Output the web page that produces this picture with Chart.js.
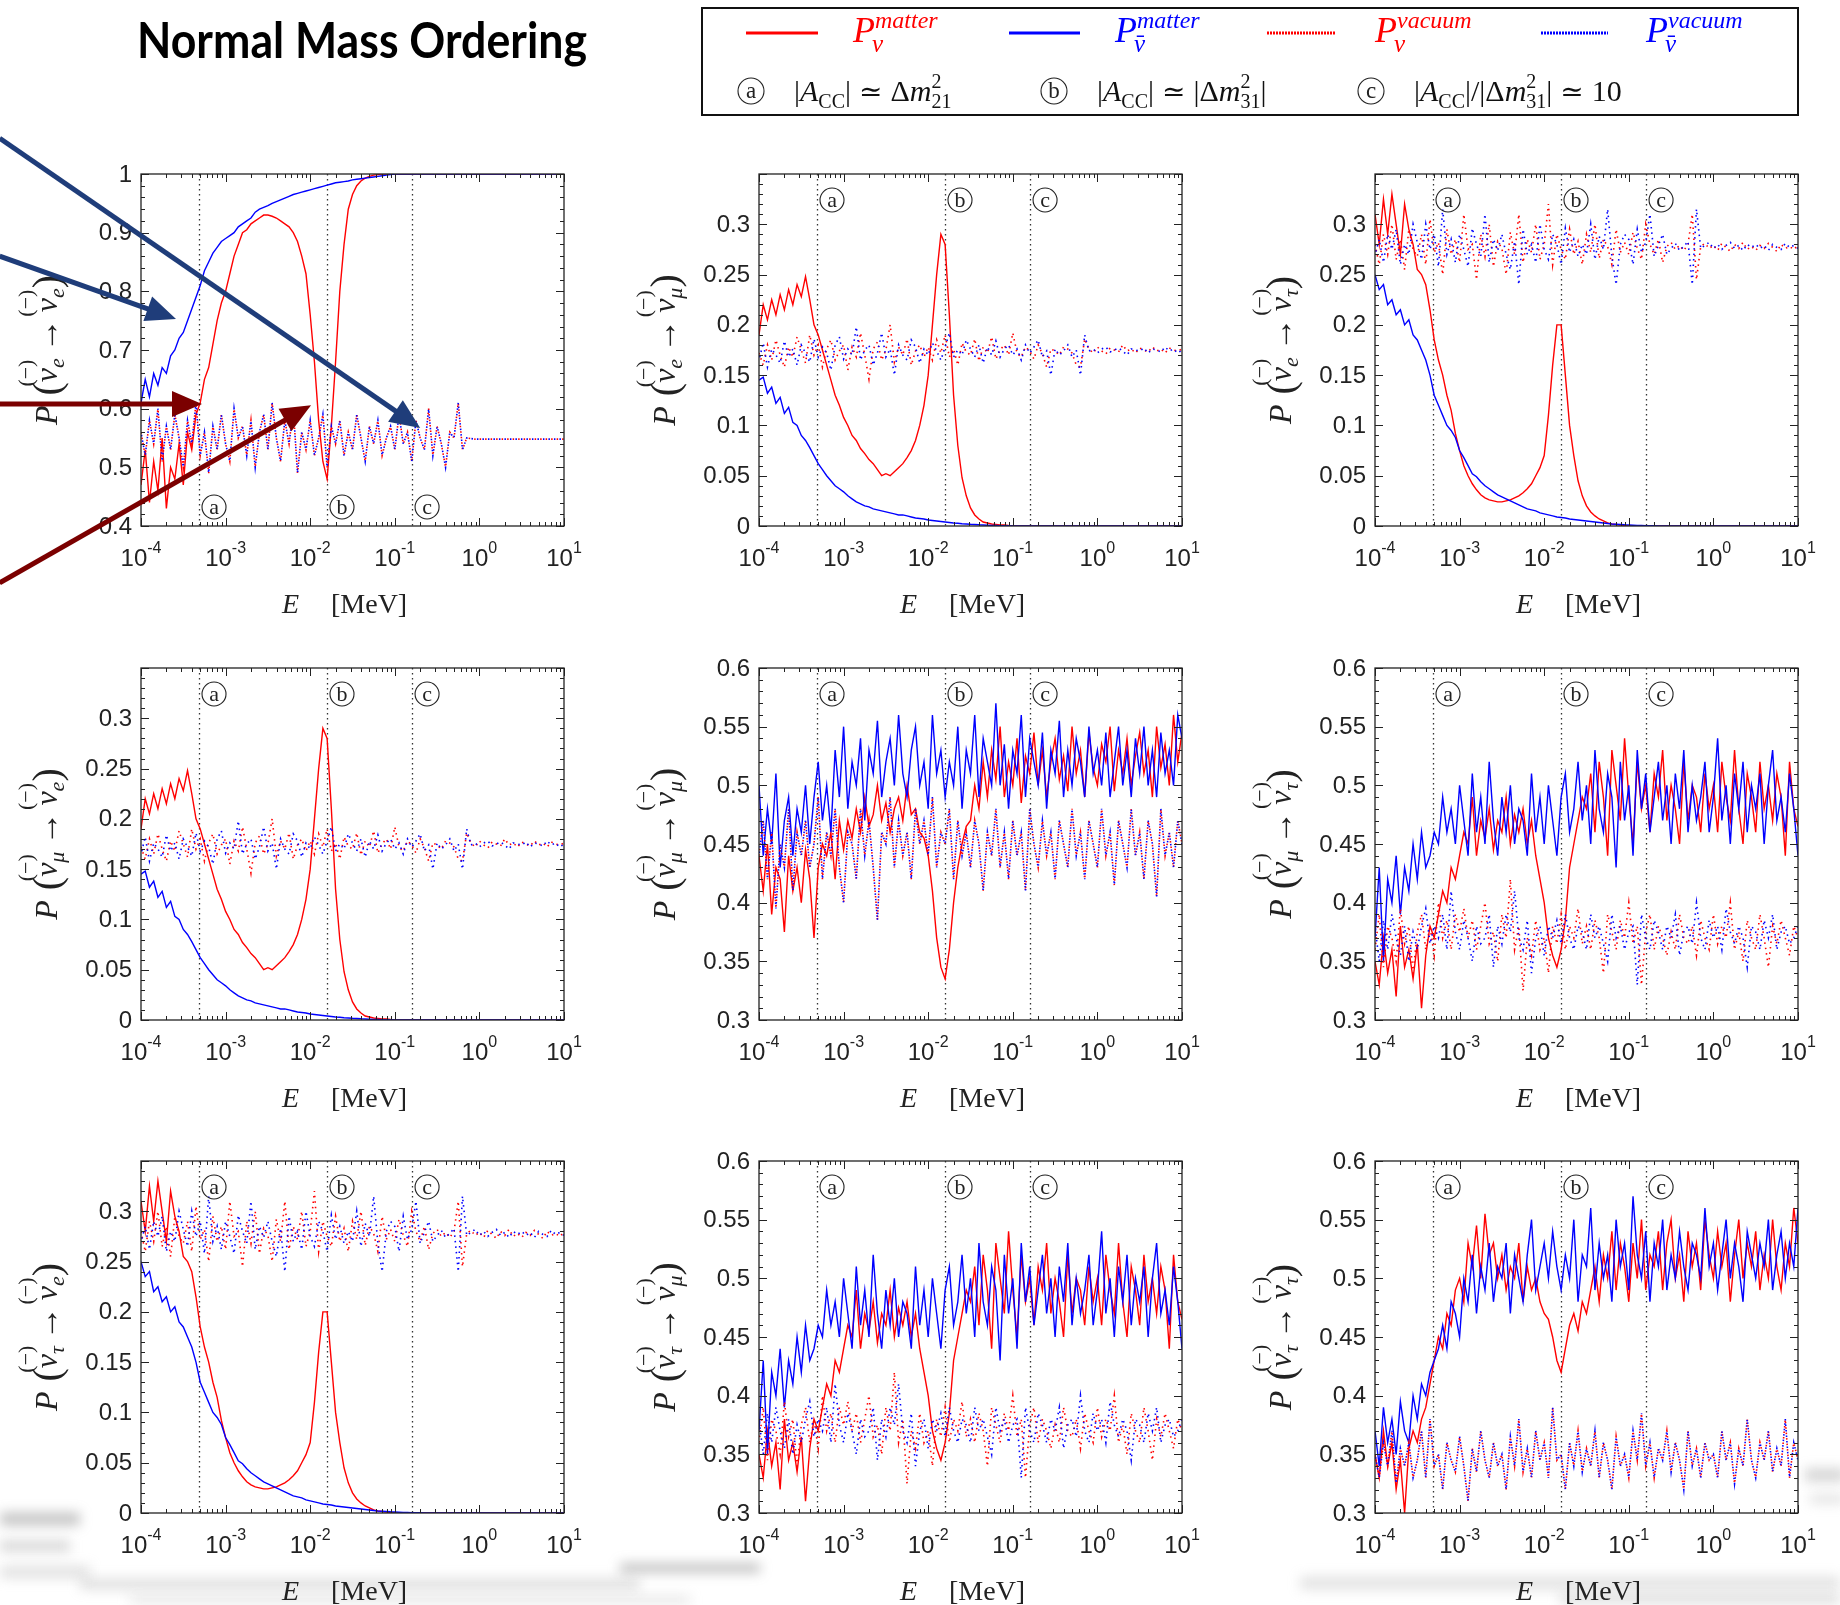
<!DOCTYPE html>
<html>
<head>
<meta charset="utf-8">
<title>Normal Mass Ordering</title>
<script src="https://cdn.jsdelivr.net/npm/chart.js@4.4.1/dist/chart.umd.min.js"></script>
<style>
  html, body { margin: 0; padding: 0; background: #fff; overflow: hidden; }
  #page { position: relative; width: 1840px; height: 1605px; }
  canvas { position: absolute; }
</style>
</head>
<body>
<div id="page">
  <canvas id="backdrop" width="1840" height="1605" style="left:0;top:0"></canvas>
  <canvas id="header" width="1840" height="130" style="left:0;top:0"></canvas>
</div>
<script>
// energy grid, log10(E / MeV)
const logE = [
  -4.00,-3.95,-3.90,-3.85,-3.80,-3.75,-3.70,-3.65,-3.60,-3.55,
  -3.50,-3.45,-3.40,-3.35,-3.30,-3.25,-3.20,-3.15,-3.10,-3.05,
  -3.00,-2.95,-2.90,-2.85,-2.80,-2.75,-2.70,-2.65,-2.60,-2.55,
  -2.50,-2.45,-2.40,-2.35,-2.30,-2.25,-2.20,-2.15,-2.10,-2.05,
  -2.00,-1.95,-1.90,-1.85,-1.80,-1.75,-1.70,-1.65,-1.60,-1.55,
  -1.50,-1.45,-1.40,-1.35,-1.30,-1.25,-1.20,-1.15,-1.10,-1.05,
  -1.00,-0.95,-0.90,-0.85,-0.80,-0.75,-0.70,-0.65,-0.60,-0.55,
  -0.50,-0.45,-0.40,-0.35,-0.30,-0.25,-0.20,-0.15,-0.10,-0.05,
   0.00, 0.05, 0.10, 0.15, 0.20, 0.25, 0.30, 0.35, 0.40, 0.45,
   0.50, 0.55, 0.60, 0.65, 0.70, 0.75, 0.80, 0.85, 0.90, 0.95, 1.00
];

// nu_e -> nu_e
const eeMatterNu = [
  0.47,0.53,0.44,0.51,0.46,0.55,0.43,0.50,0.48,0.54,
  0.47,0.56,0.53,0.59,0.61,0.65,0.67,0.71,0.75,0.78,
  0.80,0.83,0.86,0.88,0.90,0.905,0.915,0.92,0.925,0.93,
  0.93,0.928,0.925,0.92,0.915,0.91,0.90,0.885,0.86,0.83,
  0.76,0.68,0.58,0.51,0.48,0.57,0.68,0.80,0.88,0.94,
  0.965,0.98,0.988,0.993,0.996,0.998,0.999,1,1,1,
  1,1,1,1,1,1,1,1,1,1,
  1,1,1,1,1,1,1,1,1,1,
  1,1,1,1,1,1,1,1,1,1,
  1,1,1,1,1,1,1,1,1,1,1
];
const eeMatterNubar = [
  0.61,0.65,0.62,0.66,0.64,0.67,0.66,0.69,0.70,0.72,
  0.73,0.75,0.77,0.79,0.81,0.835,0.85,0.865,0.875,0.885,
  0.89,0.895,0.90,0.91,0.915,0.92,0.925,0.935,0.94,0.943,
  0.946,0.95,0.953,0.956,0.959,0.962,0.965,0.967,0.969,0.971,
  0.973,0.975,0.977,0.979,0.981,0.983,0.985,0.986,0.987,0.988,
  0.99,0.991,0.992,0.993,0.994,0.995,0.996,0.997,0.998,0.999,
  1,1,1,1,1,1,1,1,1,1,
  1,1,1,1,1,1,1,1,1,1,
  1,1,1,1,1,1,1,1,1,1,
  1,1,1,1,1,1,1,1,1,1,1
];
const eeVacuumNu = [
  0.56,0.52,0.58,0.54,0.60,0.51,0.57,0.53,0.59,0.55,
  0.50,0.58,0.54,0.61,0.52,0.56,0.49,0.57,0.53,0.59,
  0.54,0.51,0.60,0.55,0.57,0.52,0.58,0.50,0.56,0.59,
  0.53,0.61,0.55,0.51,0.58,0.54,0.60,0.49,0.56,0.53,
  0.58,0.52,0.55,0.59,0.50,0.57,0.54,0.58,0.52,0.56,
  0.53,0.59,0.55,0.51,0.57,0.54,0.58,0.52,0.55,0.57,
  0.53,0.59,0.54,0.56,0.51,0.58,0.55,0.53,0.60,0.52,
  0.57,0.54,0.50,0.56,0.55,0.61,0.53,0.55,0.549,0.548,
  0.548,0.548,0.548,0.548,0.548,0.548,0.548,0.548,0.548,0.548,
  0.548,0.548,0.548,0.548,0.548,0.548,0.548,0.548,0.548,0.548,0.548
];
const eeVacuumNubar = eeVacuumNu;

// nu_e -> nu_mu (nu_mu -> nu_e looks the same)
const emMatterNu = [
  0.19,0.22,0.205,0.225,0.21,0.23,0.215,0.235,0.22,0.24,
  0.228,0.248,0.225,0.20,0.19,0.175,0.16,0.145,0.13,0.12,
  0.108,0.10,0.09,0.085,0.077,0.072,0.066,0.062,0.056,0.05,
  0.052,0.05,0.054,0.058,0.062,0.068,0.075,0.085,0.10,0.12,
  0.15,0.20,0.25,0.29,0.28,0.21,0.13,0.08,0.048,0.03,
  0.018,0.011,0.007,0.004,0.003,0.002,0.0015,0.001,0.001,0.0005,
  0.0003,0,0,0,0,0,0,0,0,0,
  0,0,0,0,0,0,0,0,0,0,
  0,0,0,0,0,0,0,0,0,0,
  0,0,0,0,0,0,0,0,0,0,0
];
const emMatterNubar = [
  0.145,0.148,0.132,0.138,0.122,0.128,0.112,0.118,0.103,0.10,
  0.09,0.085,0.078,0.07,0.062,0.056,0.05,0.045,0.04,0.037,
  0.034,0.03,0.027,0.024,0.022,0.02,0.019,0.017,0.016,0.015,
  0.014,0.013,0.012,0.011,0.011,0.01,0.009,0.008,0.0075,0.007,
  0.006,0.0055,0.005,0.0045,0.004,0.0035,0.003,0.0027,0.0023,0.002,
  0.0017,0.0015,0.0012,0.001,0.0008,0.0006,0.0005,0.0004,0.0003,0.0002,
  0,0,0,0,0,0,0,0,0,0,
  0,0,0,0,0,0,0,0,0,0,
  0,0,0,0,0,0,0,0,0,0,
  0,0,0,0,0,0,0,0,0,0,0
];
const emVacuumNu = [
  0.172,0.16,0.18,0.165,0.185,0.17,0.158,0.178,0.168,0.188,
  0.175,0.162,0.19,0.17,0.18,0.158,0.176,0.185,0.165,0.174,
  0.18,0.155,0.178,0.168,0.192,0.17,0.146,0.176,0.183,0.165,
  0.175,0.2,0.163,0.178,0.17,0.186,0.16,0.174,0.18,0.168,
  0.178,0.165,0.185,0.172,0.19,0.168,0.176,0.16,0.182,0.173,
  0.17,0.186,0.164,0.178,0.172,0.188,0.166,0.175,0.18,0.17,
  0.192,0.172,0.168,0.178,0.174,0.166,0.18,0.171,0.158,0.176,
  0.174,0.17,0.178,0.176,0.172,0.16,0.158,0.186,0.176,0.172,
  0.178,0.174,0.171,0.177,0.175,0.173,0.18,0.174,0.176,0.172,
  0.177,0.175,0.173,0.178,0.174,0.176,0.172,0.177,0.175,0.174,0.176
];
const emVacuumNubar = [
  0.165,0.182,0.158,0.176,0.17,0.162,0.184,0.168,0.176,0.16,
  0.18,0.172,0.163,0.186,0.168,0.178,0.172,0.155,0.18,0.188,
  0.166,0.176,0.17,0.198,0.165,0.175,0.18,0.16,0.172,0.192,
  0.168,0.176,0.15,0.18,0.17,0.165,0.185,0.178,0.162,0.176,
  0.17,0.182,0.174,0.165,0.178,0.192,0.168,0.175,0.17,0.185,
  0.176,0.168,0.18,0.162,0.178,0.17,0.184,0.168,0.176,0.18,
  0.17,0.176,0.165,0.18,0.172,0.178,0.185,0.168,0.174,0.15,
  0.176,0.17,0.174,0.18,0.168,0.175,0.15,0.19,0.174,0.176,
  0.172,0.176,0.178,0.173,0.175,0.177,0.174,0.17,0.176,0.175,
  0.174,0.177,0.172,0.176,0.175,0.173,0.178,0.174,0.176,0.172,0.175
];

// nu_e -> nu_tau (nu_tau -> nu_e looks the same)
const etMatterNu = [
  0.31,0.28,0.325,0.29,0.33,0.30,0.27,0.32,0.295,0.28,
  0.255,0.25,0.24,0.215,0.185,0.165,0.15,0.13,0.115,0.092,
  0.075,0.06,0.05,0.042,0.036,0.031,0.028,0.026,0.025,0.024,
  0.024,0.025,0.026,0.028,0.03,0.033,0.037,0.042,0.05,0.058,
  0.07,0.11,0.16,0.20,0.20,0.15,0.10,0.07,0.045,0.03,
  0.02,0.014,0.01,0.007,0.005,0.003,0.002,0.0015,0.001,0.0005,
  0,0,0,0,0,0,0,0,0,0,
  0,0,0,0,0,0,0,0,0,0,
  0,0,0,0,0,0,0,0,0,0,
  0,0,0,0,0,0,0,0,0,0,0
];
const etMatterNubar = [
  0.25,0.235,0.24,0.22,0.225,0.21,0.215,0.2,0.205,0.19,
  0.185,0.175,0.165,0.15,0.13,0.12,0.11,0.1,0.095,0.088,
  0.075,0.068,0.06,0.052,0.049,0.044,0.04,0.037,0.034,0.031,
  0.029,0.027,0.025,0.023,0.021,0.019,0.017,0.016,0.015,0.013,
  0.012,0.011,0.01,0.009,0.0085,0.008,0.007,0.0065,0.006,0.0055,
  0.005,0.0045,0.004,0.0035,0.003,0.0025,0.002,0.0018,0.0015,0.0012,
  0.001,0.0008,0.0006,0.0005,0.0004,0.0003,0.0002,0.0001,0,0,
  0,0,0,0,0,0,0,0,0,0,
  0,0,0,0,0,0,0,0,0,0,
  0,0,0,0,0,0,0,0,0,0,0
];
const etVacuumNu = [
  0.28,0.26,0.29,0.27,0.3,0.265,0.285,0.255,0.295,0.275,
  0.268,0.29,0.26,0.305,0.272,0.282,0.25,0.295,0.27,0.285,
  0.262,0.31,0.275,0.28,0.245,0.29,0.268,0.3,0.258,0.283,
  0.276,0.25,0.292,0.27,0.31,0.262,0.285,0.272,0.3,0.265,
  0.28,0.32,0.26,0.29,0.275,0.265,0.295,0.27,0.283,0.26,
  0.29,0.272,0.3,0.266,0.285,0.278,0.26,0.295,0.272,0.282,
  0.27,0.292,0.276,0.265,0.3,0.28,0.27,0.285,0.262,0.278,
  0.282,0.275,0.279,0.274,0.28,0.31,0.245,0.278,0.281,0.276,
  0.279,0.274,0.281,0.277,0.273,0.28,0.276,0.282,0.275,0.278,
  0.274,0.279,0.276,0.281,0.277,0.273,0.28,0.276,0.278,0.275,0.279
];
const etVacuumNubar = [
  0.27,0.285,0.262,0.29,0.275,0.295,0.26,0.28,0.27,0.3,
  0.282,0.265,0.3,0.275,0.29,0.258,0.315,0.27,0.285,0.262,
  0.29,0.275,0.258,0.296,0.28,0.268,0.31,0.262,0.285,0.274,
  0.29,0.27,0.255,0.283,0.24,0.295,0.27,0.28,0.262,0.3,
  0.275,0.265,0.29,0.28,0.26,0.296,0.272,0.285,0.268,0.28,
  0.27,0.3,0.265,0.288,0.275,0.315,0.268,0.24,0.28,0.29,
  0.285,0.26,0.295,0.272,0.282,0.31,0.268,0.279,0.29,0.27,
  0.276,0.281,0.274,0.278,0.283,0.24,0.315,0.276,0.279,0.282,
  0.276,0.28,0.275,0.279,0.282,0.276,0.279,0.274,0.28,0.277,
  0.28,0.276,0.279,0.274,0.28,0.277,0.275,0.281,0.277,0.279,0.276
];

// nu_mu -> nu_mu
const mmMatterNu = [
  0.44,0.41,0.45,0.39,0.43,0.42,0.375,0.44,0.41,0.43,
  0.40,0.445,0.42,0.37,0.43,0.45,0.44,0.46,0.42,0.47,
  0.445,0.47,0.455,0.48,0.46,0.49,0.465,0.475,0.50,0.47,
  0.485,0.46,0.48,0.49,0.47,0.50,0.475,0.48,0.46,0.455,
  0.44,0.41,0.37,0.345,0.335,0.36,0.40,0.43,0.45,0.465,
  0.47,0.50,0.48,0.52,0.49,0.53,0.505,0.55,0.49,0.52,
  0.50,0.54,0.485,0.525,0.51,0.545,0.50,0.53,0.49,0.52,
  0.54,0.505,0.525,0.495,0.55,0.51,0.53,0.49,0.545,0.515,
  0.50,0.535,0.52,0.55,0.495,0.53,0.51,0.54,0.50,0.525,
  0.545,0.51,0.53,0.49,0.55,0.515,0.535,0.50,0.56,0.52,0.545
];
const mmMatterNubar = [
  0.50,0.44,0.48,0.45,0.51,0.43,0.47,0.49,0.44,0.48,
  0.46,0.50,0.45,0.49,0.52,0.47,0.50,0.46,0.53,0.49,
  0.55,0.48,0.52,0.50,0.54,0.47,0.53,0.51,0.555,0.49,
  0.52,0.54,0.50,0.56,0.51,0.49,0.53,0.55,0.50,0.52,
  0.48,0.56,0.51,0.53,0.49,0.52,0.50,0.55,0.48,0.53,
  0.51,0.56,0.49,0.54,0.52,0.50,0.57,0.50,0.535,0.48,
  0.53,0.51,0.56,0.49,0.54,0.52,0.50,0.545,0.48,0.53,
  0.51,0.555,0.49,0.53,0.50,0.54,0.52,0.49,0.55,0.51,
  0.53,0.50,0.545,0.49,0.52,0.55,0.50,0.53,0.49,0.54,
  0.51,0.55,0.50,0.53,0.49,0.545,0.51,0.53,0.50,0.56,0.54
];
const mmVacuumNu = [
  0.44,0.47,0.42,0.46,0.395,0.45,0.43,0.48,0.41,0.46,
  0.44,0.47,0.43,0.45,0.49,0.42,0.46,0.44,0.48,0.43,
  0.40,0.46,0.45,0.42,0.48,0.44,0.47,0.43,0.385,0.46,
  0.45,0.49,0.43,0.47,0.44,0.46,0.42,0.48,0.45,0.47,
  0.44,0.49,0.43,0.46,0.45,0.48,0.42,0.47,0.44,0.46,
  0.43,0.47,0.45,0.41,0.46,0.44,0.48,0.43,0.46,0.42,
  0.47,0.44,0.46,0.41,0.48,0.45,0.43,0.47,0.44,0.46,
  0.42,0.47,0.45,0.43,0.48,0.44,0.46,0.42,0.47,0.45,
  0.43,0.48,0.44,0.46,0.415,0.47,0.45,0.43,0.48,0.44,
  0.46,0.42,0.47,0.45,0.405,0.48,0.44,0.46,0.43,0.47,0.45
];
const mmVacuumNubar = mmVacuumNu;

// nu_mu -> nu_tau (nu_tau -> nu_mu looks the same)
const mtMatterNu = [
  0.35,0.33,0.37,0.34,0.36,0.32,0.38,0.345,0.36,0.335,
  0.365,0.31,0.355,0.38,0.37,0.39,0.41,0.40,0.43,0.42,
  0.44,0.46,0.45,0.49,0.44,0.47,0.455,0.48,0.445,0.47,
  0.46,0.49,0.45,0.475,0.46,0.48,0.45,0.47,0.44,0.42,
  0.40,0.37,0.355,0.345,0.36,0.385,0.43,0.45,0.47,0.49,
  0.48,0.51,0.46,0.52,0.49,0.44,0.53,0.50,0.47,0.54,
  0.49,0.45,0.52,0.48,0.50,0.46,0.51,0.49,0.53,0.47,
  0.50,0.48,0.45,0.52,0.47,0.50,0.49,0.46,0.51,0.48,
  0.50,0.46,0.52,0.49,0.47,0.53,0.48,0.45,0.51,0.49,
  0.46,0.52,0.48,0.50,0.47,0.51,0.49,0.44,0.52,0.48,0.465
];
const mtMatterNubar = [
  0.37,0.43,0.35,0.42,0.40,0.44,0.39,0.43,0.41,0.45,
  0.42,0.46,0.43,0.44,0.46,0.45,0.49,0.46,0.48,0.45,
  0.50,0.47,0.44,0.51,0.46,0.49,0.45,0.52,0.47,0.44,
  0.49,0.46,0.50,0.45,0.48,0.47,0.44,0.51,0.46,0.49,
  0.45,0.50,0.47,0.44,0.49,0.51,0.46,0.48,0.52,0.47,
  0.50,0.45,0.53,0.48,0.46,0.51,0.49,0.43,0.52,0.47,
  0.50,0.44,0.53,0.48,0.51,0.46,0.49,0.52,0.47,0.50,
  0.45,0.51,0.48,0.53,0.46,0.50,0.47,0.49,0.52,0.46,
  0.49,0.54,0.47,0.50,0.45,0.51,0.48,0.52,0.46,0.50,
  0.48,0.51,0.45,0.50,0.53,0.47,0.49,0.46,0.51,0.48,0.44
];
const mtVacuumNu = [
  0.36,0.39,0.345,0.38,0.37,0.35,0.395,0.365,0.38,0.34,
  0.375,0.39,0.36,0.38,0.355,0.40,0.37,0.385,0.36,0.39,
  0.375,0.395,0.37,0.385,0.36,0.38,0.40,0.365,0.375,0.35,
  0.39,0.37,0.42,0.36,0.38,0.325,0.37,0.355,0.385,0.36,
  0.37,0.34,0.38,0.365,0.39,0.36,0.38,0.37,0.395,0.365,
  0.38,0.36,0.385,0.37,0.34,0.39,0.375,0.36,0.385,0.37,
  0.40,0.365,0.38,0.33,0.375,0.39,0.36,0.38,0.37,0.355,
  0.375,0.36,0.39,0.37,0.365,0.38,0.355,0.385,0.37,0.36,
  0.39,0.365,0.38,0.37,0.40,0.36,0.375,0.35,0.385,0.37,
  0.36,0.39,0.37,0.345,0.38,0.365,0.385,0.37,0.355,0.38,0.37
];
const mtVacuumNubar = [
  0.38,0.35,0.385,0.36,0.39,0.37,0.355,0.38,0.35,0.375,
  0.36,0.38,0.395,0.365,0.38,0.37,0.39,0.36,0.41,0.375,
  0.36,0.385,0.37,0.35,0.38,0.365,0.37,0.39,0.345,0.38,
  0.365,0.39,0.375,0.41,0.37,0.36,0.385,0.34,0.37,0.38,
  0.355,0.38,0.37,0.385,0.365,0.39,0.37,0.36,0.38,0.375,
  0.36,0.39,0.37,0.38,0.365,0.35,0.39,0.37,0.38,0.36,
  0.375,0.38,0.33,0.39,0.37,0.36,0.385,0.375,0.36,0.38,
  0.37,0.39,0.355,0.375,0.38,0.365,0.40,0.37,0.36,0.385,
  0.37,0.38,0.36,0.395,0.375,0.365,0.38,0.37,0.345,0.38,
  0.375,0.36,0.385,0.37,0.39,0.36,0.375,0.38,0.365,0.37,0.38
];

// nu_tau -> nu_tau
const ttMatterNu = [
  0.35,0.33,0.37,0.34,0.36,0.32,0.345,0.30,0.355,0.37,
  0.36,0.38,0.39,0.41,0.43,0.45,0.44,0.47,0.46,0.49,
  0.50,0.48,0.53,0.51,0.545,0.50,0.555,0.52,0.53,0.50,
  0.52,0.49,0.51,0.50,0.53,0.48,0.51,0.49,0.50,0.48,
  0.47,0.465,0.45,0.43,0.42,0.44,0.46,0.47,0.455,0.48,
  0.47,0.49,0.51,0.48,0.52,0.50,0.54,0.49,0.53,0.51,
  0.48,0.53,0.50,0.55,0.49,0.52,0.51,0.54,0.49,0.53,
  0.55,0.50,0.52,0.48,0.54,0.51,0.53,0.49,0.55,0.52,
  0.50,0.54,0.51,0.53,0.48,0.52,0.55,0.50,0.53,0.51,
  0.54,0.49,0.52,0.50,0.55,0.51,0.49,0.53,0.51,0.56,0.53
];
const ttMatterNubar = [
  0.37,0.34,0.39,0.36,0.38,0.35,0.395,0.37,0.36,0.40,
  0.38,0.41,0.40,0.42,0.43,0.44,0.46,0.44,0.48,0.47,
  0.45,0.50,0.48,0.52,0.47,0.51,0.49,0.53,0.48,0.51,
  0.50,0.53,0.47,0.52,0.50,0.48,0.52,0.55,0.49,0.51,
  0.53,0.50,0.54,0.51,0.49,0.52,0.50,0.55,0.48,0.52,
  0.51,0.56,0.49,0.53,0.50,0.52,0.48,0.55,0.51,0.53,
  0.49,0.57,0.52,0.50,0.54,0.48,0.53,0.51,0.55,0.49,
  0.52,0.50,0.54,0.51,0.49,0.53,0.52,0.50,0.56,0.51,
  0.53,0.49,0.52,0.55,0.50,0.53,0.51,0.48,0.54,0.52,
  0.50,0.53,0.51,0.55,0.49,0.52,0.54,0.50,0.53,0.51,0.56
];
const ttVacuumNu = [
  0.35,0.33,0.36,0.34,0.37,0.325,0.355,0.34,0.36,0.33,
  0.345,0.37,0.33,0.38,0.34,0.35,0.32,0.36,0.345,0.335,
  0.365,0.34,0.31,0.355,0.335,0.37,0.345,0.33,0.36,0.34,
  0.35,0.32,0.365,0.34,0.38,0.335,0.355,0.33,0.37,0.345,
  0.36,0.33,0.39,0.345,0.35,0.32,0.36,0.34,0.37,0.335,
  0.355,0.34,0.37,0.33,0.36,0.345,0.32,0.365,0.34,0.35,
  0.33,0.37,0.345,0.385,0.34,0.36,0.33,0.355,0.345,0.37,
  0.335,0.36,0.345,0.32,0.37,0.34,0.355,0.33,0.36,0.345,
  0.35,0.33,0.37,0.345,0.36,0.325,0.355,0.34,0.38,0.345,
  0.33,0.36,0.345,0.37,0.335,0.355,0.34,0.38,0.33,0.36,0.345
];
const ttVacuumNubar = ttVacuumNu;

// resonance markers (a) (b) (c) and axes
const markerE = [4.85e-4, 1.58e-2, 1.6e-1];
const markerTags = ['a', 'b', 'c'];
const decades = [-4, -3, -2, -1, 0, 1];
const axisEE = { min: 0.4, max: 1.0, minor: 0.02, per: 5, labelMax: 1.0 };
const axisLow = { min: 0, max: 0.35, minor: 0.01, per: 5, labelMax: 0.3 };
const axisMid = { min: 0.3, max: 0.6, minor: 0.01, per: 5, labelMax: 0.6 };

const TITLE = 'Normal Mass Ordering';
const RED = '#ff0000', BLUE = '#0000ff';
const SERIF = '"Liberation Serif", "DejaVu Serif", serif';
const SANS = '"Liberation Sans", Arial, sans-serif';

// arrows drawn over the first panel, in (E, P) coordinates
const arrowsEE = [
  { from: [Math.pow(10, -5.67), 1.061], to: [Math.pow(10, -0.70), 0.567], color: '#1f3d7a' },
  { from: [Math.pow(10, -5.67), 0.860], to: [Math.pow(10, -3.586), 0.753], color: '#1f3d7a' },
  { from: [Math.pow(10, -5.67), 0.608], to: [Math.pow(10, -3.279), 0.608], color: '#7b0000' },
  { from: [Math.pow(10, -5.67), 0.303], to: [Math.pow(10, -1.99), 0.606], color: '#7b0000' }
];

const panels = [
  { col: 0, row: 0, from: 'e', to: 'e', axis: axisEE, tagsBottom: true, arrows: arrowsEE,
    series: [eeMatterNu, eeMatterNubar, eeVacuumNu, eeVacuumNubar] },
  { col: 1, row: 0, from: 'e', to: 'μ', axis: axisLow,
    series: [emMatterNu, emMatterNubar, emVacuumNu, emVacuumNubar] },
  { col: 2, row: 0, from: 'e', to: 'τ', axis: axisLow,
    series: [etMatterNu, etMatterNubar, etVacuumNu, etVacuumNubar] },
  { col: 0, row: 1, from: 'μ', to: 'e', axis: axisLow,
    series: [emMatterNu, emMatterNubar, emVacuumNu, emVacuumNubar] },
  { col: 1, row: 1, from: 'μ', to: 'μ', axis: axisMid,
    series: [mmMatterNu, mmMatterNubar, mmVacuumNu, mmVacuumNubar] },
  { col: 2, row: 1, from: 'μ', to: 'τ', axis: axisMid,
    series: [mtMatterNu, mtMatterNubar, mtVacuumNu, mtVacuumNubar] },
  { col: 0, row: 2, from: 'τ', to: 'e', axis: axisLow,
    series: [etMatterNu, etMatterNubar, etVacuumNu, etVacuumNubar] },
  { col: 1, row: 2, from: 'τ', to: 'μ', axis: axisMid,
    series: [mtMatterNu, mtMatterNubar, mtVacuumNu, mtVacuumNubar] },
  { col: 2, row: 2, from: 'τ', to: 'τ', axis: axisMid,
    series: [ttMatterNu, ttMatterNubar, ttVacuumNu, ttVacuumNubar] }
];

// page layout
const colLeft = [141, 759, 1375], rowTop = [174, 668, 1161];
const PLOT_W = 423, PLOT_H = 352;
const PAD = { left: 141, top: 60, right: 30, bottom: 100 };

// draw a run of math-like text pieces, returns its width
function mathRun(ctx, x, y, parts, dry) {
  let cx = x;
  ctx.textAlign = 'left';
  ctx.textBaseline = 'alphabetic';
  for (const p of parts) {
    if (p.gap) { cx += p.gap; continue; }
    if (p.dx) cx += p.dx;
    ctx.font = (p.it ? 'italic ' : '') + p.s + 'px ' + SERIF;
    const w = ctx.measureText(p.t).width;
    if (!dry) {
      const by = y + (p.dy || 0);
      ctx.fillText(p.t, cx, by);
      if (p.over) {
        ctx.font = Math.round(p.s * 0.7) + 'px ' + SERIF;
        ctx.textAlign = 'center';
        ctx.fillText('(\u2212)', cx + w / 2 + 2, by - p.s * 0.74);
        ctx.textAlign = 'left';
      }
      if (p.bar) {
        ctx.fillRect(cx + w * 0.25, by - p.s * 0.66, w * 0.65, Math.max(1, p.s * 0.06));
      }
    }
    if (!p.stack) cx += w;
  }
  return cx - x;
}

function circled(ctx, cx, cy, r, letter, size) {
  ctx.save();
  ctx.strokeStyle = '#222';
  ctx.fillStyle = '#222';
  ctx.lineWidth = 1.1;
  ctx.beginPath();
  ctx.arc(cx, cy, r, 0, 2 * Math.PI);
  ctx.stroke();
  ctx.font = size + 'px ' + SERIF;
  ctx.textAlign = 'center';
  ctx.textBaseline = 'middle';
  ctx.fillText(letter, cx, cy + 1);
  ctx.restore();
}

function yTitleParts(from, to) {
  return [
    { t: 'P', s: 32, it: true }, { gap: 10 },
    { t: '(', s: 40, dy: 3 },
    { t: 'ν', s: 32, it: true, over: true },
    { t: from, s: 22, it: true, dy: 7 }, { gap: 6 },
    { t: '→', s: 34, dy: 1 }, { gap: 6 },
    { t: 'ν', s: 32, it: true, over: true },
    { t: to, s: 22, it: true, dy: 7 },
    { t: ')', s: 40, dy: 3 }
  ];
}

function makeDecor(p) {
  return {
    id: 'panelDecor',
    beforeDatasetsDraw(chart) {
      const ctx = chart.ctx, a = chart.chartArea, xs = chart.scales.x;
      ctx.save();
      ctx.strokeStyle = '#333';
      ctx.lineWidth = 1.3;
      ctx.setLineDash([1.5, 3.5]);
      markerE.forEach(e => {
        const px = Math.round(xs.getPixelForValue(e)) + 0.5;
        ctx.beginPath();
        ctx.moveTo(px, a.top);
        ctx.lineTo(px, a.bottom);
        ctx.stroke();
      });
      ctx.restore();
    },
    afterDraw(chart) {
      const ctx = chart.ctx, a = chart.chartArea, xs = chart.scales.x, ys = chart.scales.y;
      const ax = p.axis;
      ctx.save();

      // frame
      ctx.strokeStyle = '#222';
      ctx.lineWidth = 1.3;
      ctx.strokeRect(a.left, a.top, a.right - a.left, a.bottom - a.top);

      // log ticks on x, inward, top and bottom
      ctx.lineWidth = 1;
      ctx.beginPath();
      decades.forEach(n => {
        for (let k = 1; k <= 9; k++) {
          const v = k * Math.pow(10, n);
          if (v > 10.0001) break;
          const px = Math.round(xs.getPixelForValue(v)) + 0.5;
          const len = k === 1 ? 8 : 4;
          ctx.moveTo(px, a.bottom); ctx.lineTo(px, a.bottom - len);
          ctx.moveTo(px, a.top); ctx.lineTo(px, a.top + len);
        }
      });
      // y ticks, left and right
      const nMinor = Math.round((ax.max - ax.min) / ax.minor);
      for (let j = 0; j <= nMinor; j++) {
        const v = ax.min + j * ax.minor;
        const py = Math.round(ys.getPixelForValue(v)) + 0.5;
        const len = j % ax.per === 0 ? 8 : 4;
        ctx.moveTo(a.left, py); ctx.lineTo(a.left + len, py);
        ctx.moveTo(a.right, py); ctx.lineTo(a.right - len, py);
      }
      ctx.stroke();

      // y tick labels
      ctx.fillStyle = '#222';
      ctx.font = '24px ' + SANS;
      ctx.textAlign = 'right';
      ctx.textBaseline = 'middle';
      for (let j = 0; j <= nMinor; j += ax.per) {
        const v = ax.min + j * ax.minor;
        if (v > ax.labelMax + 1e-9) continue;
        ctx.fillText(String(Number(v.toFixed(2))), a.left - 9, ys.getPixelForValue(v) + 1);
      }

      // x tick labels 10^n
      ctx.textBaseline = 'alphabetic';
      ctx.textAlign = 'left';
      decades.forEach(n => {
        const px = xs.getPixelForValue(Math.pow(10, n));
        ctx.font = '24px ' + SANS;
        const w1 = ctx.measureText('10').width;
        ctx.font = '16px ' + SANS;
        const sup = String(n);
        const w2 = ctx.measureText(sup).width;
        const x0 = px - (w1 + w2) / 2;
        ctx.font = '24px ' + SANS;
        ctx.fillText('10', x0, a.bottom + 40);
        ctx.font = '16px ' + SANS;
        ctx.fillText(sup, x0 + w1, a.bottom + 27);
      });

      // circled resonance tags
      markerE.forEach((e, i) => {
        const px = xs.getPixelForValue(e);
        const cy = p.tagsBottom ? a.bottom - 19 : a.top + 26;
        circled(ctx, px + 15, cy, 12, markerTags[i], 22);
      });

      // x title
      ctx.fillStyle = '#222';
      mathRun(ctx, a.left + 141, a.bottom + 87, [{ t: 'E', s: 28, it: true }]);
      mathRun(ctx, a.left + 190, a.bottom + 87, [{ t: '[MeV]', s: 28 }]);

      // y title, rotated
      const parts = yTitleParts(p.from, p.to);
      const tw = mathRun(ctx, 0, 0, parts, true);
      ctx.save();
      ctx.translate(a.left - 97, (a.top + a.bottom) / 2);
      ctx.rotate(-Math.PI / 2);
      ctx.fillStyle = '#222';
      mathRun(ctx, -tw / 2, 13, parts);
      ctx.restore();

      // annotation arrows
      if (p.arrows) {
        p.arrows.forEach(ar => {
          const x0 = xs.getPixelForValue(ar.from[0]), y0 = ys.getPixelForValue(ar.from[1]);
          const x1 = xs.getPixelForValue(ar.to[0]), y1 = ys.getPixelForValue(ar.to[1]);
          const len = Math.hypot(x1 - x0, y1 - y0);
          const ux = (x1 - x0) / len, uy = (y1 - y0) / len;
          const hl = 30, hw = 13;
          ctx.strokeStyle = ar.color;
          ctx.fillStyle = ar.color;
          ctx.lineWidth = 5;
          ctx.beginPath();
          ctx.moveTo(x0, y0);
          ctx.lineTo(x1 - ux * hl * 0.8, y1 - uy * hl * 0.8);
          ctx.stroke();
          ctx.beginPath();
          ctx.moveTo(x1, y1);
          ctx.lineTo(x1 - ux * hl - uy * hw, y1 - uy * hl + ux * hw);
          ctx.lineTo(x1 - ux * hl + uy * hw, y1 - uy * hl - ux * hw);
          ctx.closePath();
          ctx.fill();
        });
      }
      ctx.restore();
    }
  };
}

// faint grey smears of the slide background along the bottom edge
function drawBackdrop() {
  const ctx = document.getElementById('backdrop').getContext('2d');
  ctx.filter = 'blur(6px)';
  const smears = [
    [0, 1512, 80, 14, 'rgba(120,120,120,0.4)'],
    [0, 1540, 70, 12, 'rgba(150,150,150,0.35)'],
    [0, 1565, 90, 14, 'rgba(170,170,170,0.3)'],
    [80, 1578, 560, 12, 'rgba(160,160,160,0.3)'],
    [130, 1595, 560, 10, 'rgba(190,190,190,0.3)'],
    [620, 1563, 140, 10, 'rgba(110,110,110,0.4)'],
    [1300, 1576, 540, 14, 'rgba(170,170,170,0.3)'],
    [1560, 1594, 280, 10, 'rgba(150,150,150,0.3)'],
    [1805, 1468, 40, 14, 'rgba(140,140,140,0.35)'],
    [1810, 1494, 35, 10, 'rgba(170,170,170,0.3)']
  ];
  smears.forEach(([x, y, w, h, c]) => { ctx.fillStyle = c; ctx.fillRect(x, y, w, h); });
  ctx.filter = 'none';
}

function drawHeader() {
  const ctx = document.getElementById('header').getContext('2d');
  ctx.fillStyle = '#000';
  ctx.font = 'bold 50px Lato, "Open Sans", sans-serif';
  const tw = ctx.measureText(TITLE).width;
  ctx.save();
  ctx.translate(137, 58);
  ctx.scale(450 / tw, 1);
  ctx.fillText(TITLE, 0, 0);
  ctx.restore();

  // legend frame
  ctx.strokeStyle = '#111';
  ctx.lineWidth = 2;
  ctx.strokeRect(702, 8, 1096, 107);

  const entries = [
    { color: RED, dash: [], x0: 746, x1: 818, px: 853, sup: 'matter', bar: false },
    { color: BLUE, dash: [], x0: 1009, x1: 1080, px: 1115, sup: 'matter', bar: true },
    { color: RED, dash: [2, 1], x0: 1267, x1: 1335, px: 1375, sup: 'vacuum', bar: false },
    { color: BLUE, dash: [2, 1], x0: 1541, x1: 1608, px: 1646, sup: 'vacuum', bar: true }
  ];
  entries.forEach(en => {
    ctx.save();
    ctx.strokeStyle = en.color;
    ctx.lineWidth = 3;
    ctx.setLineDash(en.dash);
    ctx.beginPath();
    ctx.moveTo(en.x0, 33);
    ctx.lineTo(en.x1, 33);
    ctx.stroke();
    ctx.restore();
    ctx.fillStyle = en.color;
    mathRun(ctx, en.px, 42, [
      { t: 'P', s: 36, it: true },
      { t: en.sup, s: 24, it: true, dy: -14, stack: true },
      { t: 'ν', s: 25, it: true, dy: 10, dx: -3, bar: en.bar }
    ]);
  });

  ctx.fillStyle = '#111';
  const A = [{ t: '|', s: 30 }, { t: 'A', s: 30, it: true }, { t: 'CC', s: 20, dy: 7 }, { t: '|', s: 30 }];
  const sim = [{ gap: 8 }, { t: '≃', s: 28 }, { gap: 8 }];
  const dm = (ij) => [{ t: 'Δ', s: 30 }, { t: 'm', s: 30, it: true },
    { t: '2', s: 20, dy: -13, stack: true }, { t: ij, s: 20, dy: 7 }];
  circled(ctx, 751, 91, 13, 'a', 23);
  mathRun(ctx, 794, 101, [...A, ...sim, ...dm('21')]);
  circled(ctx, 1054, 91, 13, 'b', 23);
  mathRun(ctx, 1097, 101, [...A, ...sim, { t: '|', s: 30 }, ...dm('31'), { t: '|', s: 30 }]);
  circled(ctx, 1371, 91, 13, 'c', 23);
  mathRun(ctx, 1414, 101, [...A, { t: '/', s: 30 }, { t: '|', s: 30 }, ...dm('31'), { t: '|', s: 30 },
    ...sim, { t: '10', s: 30 }]);
}

drawBackdrop();
drawHeader();

const page = document.getElementById('page');
panels.forEach(p => {
  const cv = document.createElement('canvas');
  cv.width = PAD.left + PLOT_W + PAD.right;
  cv.height = PAD.top + PLOT_H + PAD.bottom;
  cv.style.left = (colLeft[p.col] - PAD.left) + 'px';
  cv.style.top = (rowTop[p.row] - PAD.top) + 'px';
  page.appendChild(cv);

  const pts = arr => logE.map((l, i) => ({ x: Math.pow(10, l), y: arr[i] }));
  const [mNu, mNubar, vNu, vNubar] = p.series;

  new Chart(cv, {
    type: 'line',
    data: {
      datasets: [
        { data: pts(mNu), borderColor: RED, borderWidth: 1.4, order: 4 },
        { data: pts(mNubar), borderColor: BLUE, borderWidth: 1.4, order: 3 },
        { data: pts(vNu), borderColor: RED, borderWidth: 1.6, borderDash: [1.5, 4], order: 2 },
        { data: pts(vNubar), borderColor: BLUE, borderWidth: 1.6, borderDash: [1.5, 4], borderDashOffset: 2.7, order: 1 }
      ]
    },
    options: {
      responsive: false,
      animation: false,
      devicePixelRatio: 1,
      layout: { padding: PAD },
      elements: { point: { radius: 0 }, line: { tension: 0, fill: false } },
      plugins: { legend: { display: false }, tooltip: { enabled: false } },
      scales: {
        x: { type: 'logarithmic', min: 1e-4, max: 10, display: false },
        y: { type: 'linear', min: p.axis.min, max: p.axis.max, display: false }
      }
    },
    plugins: [makeDecor(p)]
  });
});
</script>
</body>
</html>
